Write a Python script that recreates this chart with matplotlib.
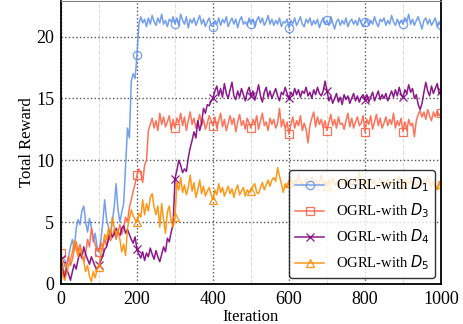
import matplotlib
matplotlib.use("Agg")
import matplotlib.pyplot as plt
import numpy as np

plt.rcParams['font.family'] = ['Liberation Serif', 'DejaVu Sans']
plt.rcParams['mathtext.fontset'] = 'dejavusans'

iters = list(range(0, 1001, 5))

# OGRL-with D1
d1 = [1.8, 1.2, 0.8, 1.5, 2.2, 3.0, 3.6, 2.8, 4.5, 5.2, 4.8, 5.9, 6.3, 5.0, 4.2, 5.3, 4.6, 3.4, 4.1, 3.0,
      2.6, 3.5, 5.0, 6.8, 5.2, 4.6, 3.9, 5.0, 6.2, 8.1, 6.0, 5.0, 5.8, 6.5, 9.5, 12.6, 11.8, 16.4, 17.0, 16.6,
      18.5, 21.0, 21.6, 21.1, 21.4, 20.8, 21.5, 21.0, 21.7, 21.2, 20.9, 21.5, 21.1, 21.8, 21.0, 21.3, 20.8, 21.4, 21.2, 21.6,
      21.0, 21.5, 20.9, 21.8, 21.3, 21.0, 21.6, 20.7, 21.4, 21.1, 21.5, 20.9, 21.3, 21.7, 21.0, 21.4, 20.8, 21.2, 21.5, 20.9,
      20.8, 21.3, 21.0, 21.5, 20.9, 21.4, 21.1, 21.6, 20.8, 21.2, 21.5, 21.0, 21.4, 20.7, 21.3, 21.6, 21.0, 21.2, 20.9, 21.5,
      21.0, 21.4, 20.8, 21.3, 21.6, 21.1, 21.5, 20.9, 21.2, 21.7, 21.0, 21.4, 20.9, 21.3, 21.0, 21.5, 20.8, 21.2, 21.1, 21.4,
      20.7, 21.3, 21.0, 21.5, 20.9, 21.2, 21.6, 21.0, 20.8, 21.4, 21.1, 21.5, 20.9, 21.3, 21.0, 21.4, 20.7, 21.2, 21.5, 21.0,
      21.3, 20.9, 21.6, 21.1, 20.6, 21.2, 21.4, 20.9, 21.3, 21.0, 21.5, 20.8, 21.2, 21.4, 21.0, 21.3, 20.9, 21.5, 21.1, 20.8,
      21.2, 21.4, 20.9, 21.3, 21.0, 21.6, 21.1, 20.8, 21.4, 21.2, 21.5, 20.9, 21.3, 21.0, 21.7, 21.2, 20.9, 21.4, 21.0, 21.3,
      21.0, 21.5, 21.2, 21.8, 21.0, 21.4, 20.9, 21.3, 21.6, 21.1, 20.6, 21.3, 21.5, 21.0, 21.4, 20.9, 21.2, 21.5, 20.8, 21.1,
      20.9]

# OGRL-with D3
d3 = [2.5, 1.0, 0.8, 1.6, 2.2, 1.5, 2.0, 2.8, 3.4, 2.6, 3.2, 2.4, 1.8, 2.5, 3.6, 3.0, 4.5, 3.8, 3.2, 2.7,
      2.6, 3.3, 2.9, 3.6, 3.1, 4.0, 3.5, 3.8, 4.4, 3.6, 4.2, 4.8, 4.0, 4.6, 5.4, 5.0, 6.2, 6.8, 7.5, 8.1,
      8.8, 9.3, 9.0, 8.2, 9.6, 10.0, 12.4, 12.9, 13.4, 12.6, 13.2, 12.4, 13.8, 12.9, 13.5, 12.7, 13.1, 13.6, 12.5, 13.3,
      12.6, 13.4, 13.0, 13.8, 12.8, 13.5, 12.4, 13.2, 13.9, 12.9, 13.4, 12.6, 13.1, 13.7, 12.8, 13.3, 12.5, 13.0, 13.6, 13.2,
      12.8, 13.5, 12.6, 13.2, 13.8, 12.7, 13.3, 12.4, 13.0, 13.6, 12.9, 13.4, 12.3, 13.1, 13.7, 12.8, 13.2, 12.5, 13.4, 13.0,
      12.6, 13.3, 12.9, 13.6, 12.5, 13.2, 13.8, 12.8, 13.1, 12.4, 13.4, 12.9, 13.3, 12.6, 13.0, 14.2, 12.7, 13.3, 12.5, 13.1,
      12.1, 12.9, 13.5, 12.6, 13.2, 12.8, 13.6, 12.4, 13.0, 12.5, 11.4, 12.8, 13.4, 13.9, 12.7, 13.5, 12.9, 13.3, 12.6, 13.2,
      12.4, 13.1, 13.7, 12.8, 13.3, 12.6, 13.5, 12.9, 13.0, 12.5, 13.2, 13.8, 12.7, 13.4, 12.6, 13.1, 13.5, 12.8, 13.0, 13.6,
      12.3, 13.3, 12.9, 13.6, 12.5, 13.1, 13.7, 12.8, 13.4, 12.6, 13.0, 13.5, 12.8, 13.3, 12.9, 13.8, 12.6, 13.2, 12.8, 13.4,
      12.3, 13.1, 12.4, 13.3, 12.8, 13.0, 11.9, 13.2, 13.7, 14.0, 13.5, 13.9, 13.3, 14.1, 13.6, 13.2, 13.9, 13.5, 14.0, 13.6,
      13.8]

# OGRL-with D4
d4 = [2.0, 1.0, 0.5, 1.2, 0.8, 0.3, 1.0, 1.6, 1.2, 2.0, 2.5, 2.1, 3.0, 2.4, 2.0, 1.6, 2.2, 1.8, 1.4, 1.2,
      1.5, 1.9, 2.3, 2.8, 3.0, 3.6, 4.2, 3.8, 4.0, 4.5, 4.2, 3.9, 4.5, 4.7, 4.1, 4.4, 4.0, 3.6, 3.3, 3.8,
      2.8, 2.4, 2.1, 2.6, 1.9, 2.5, 2.2, 2.9, 2.4, 2.0, 2.7, 2.2, 1.8, 2.4, 3.0, 2.6, 3.7, 3.4, 4.2, 4.8,
      8.5, 9.2, 10.0, 9.6, 9.0, 9.3, 9.1, 10.2, 11.0, 11.6, 12.3, 11.8, 13.2, 12.4, 13.0, 14.2, 13.8, 14.5, 14.4, 14.8,
      15.0, 15.6, 16.0, 15.2, 15.8, 15.1, 16.2, 15.4, 15.0, 15.7, 16.3, 15.2, 14.9, 15.6, 15.1, 15.8, 15.3, 14.8, 15.5, 15.9,
      15.2, 15.6, 14.9, 15.4, 16.1, 15.2, 14.7, 15.5, 15.9, 15.1, 15.6, 15.0, 15.4, 15.8, 15.2, 14.8, 15.5, 15.3, 15.9, 15.4,
      15.0, 15.5, 15.2, 15.8, 15.3, 15.7, 15.1, 15.6, 15.4, 15.9, 15.2, 15.5, 15.0, 15.7, 15.3, 15.9, 15.4, 15.2, 15.6, 16.4,
      15.6, 14.8, 15.2, 14.6, 15.0, 15.4, 14.7, 15.1, 14.5, 15.3, 14.9, 15.2, 14.6, 15.0, 15.4, 14.8, 15.2, 14.7, 15.1, 15.3,
      14.9, 15.3, 14.7, 15.1, 15.5, 14.8, 15.2, 15.6, 14.9, 15.3, 15.0, 15.4, 14.8, 15.2, 15.6, 15.1, 15.7, 15.2, 15.9, 15.3,
      15.1, 15.7, 15.4, 16.1, 15.5, 15.8, 15.0, 15.3, 14.5, 14.1, 14.6, 15.5, 16.3, 15.6, 15.2, 16.0, 15.4, 15.8, 16.2, 15.4,
      15.6]

# OGRL-with D5
d5 = [1.8, 0.6, 0.3, 0.9, 1.5, 2.0, 2.6, 3.5, 2.8, 2.2, 3.0, 2.4, 1.8, 1.0, 1.5, 0.6, 0.2, 1.0, 0.5, 1.2,
      1.4, 2.5, 3.1, 4.0, 3.6, 4.5, 3.8, 5.4, 4.6, 4.0, 4.4, 3.6, 2.6, 3.2, 2.3, 4.5, 5.3, 6.0, 5.5, 5.2,
      5.0, 5.7, 5.4, 6.8, 5.6, 6.5, 5.9, 7.0, 7.3, 6.2, 5.6, 6.3, 4.6, 6.5, 5.2, 4.1, 5.8, 6.3, 5.0, 4.6,
      5.4, 8.2, 7.6, 8.6, 7.4, 8.0, 7.2, 7.8, 8.8, 7.5, 8.2, 7.0, 7.6, 8.4, 7.3, 7.9, 7.1, 7.5, 7.8, 7.2,
      6.8, 7.6, 7.2, 8.1, 7.4, 7.8, 7.1, 7.5, 7.9, 7.3, 7.7, 7.0, 7.6, 8.0, 7.2, 7.5, 7.8, 7.1, 7.6, 7.4,
      7.5, 7.9, 8.1, 7.4, 7.3, 7.8, 8.2, 7.6, 8.0, 8.4, 7.9, 8.4, 8.6, 8.3, 9.4, 8.7, 8.1, 7.4, 8.1, 7.8,
      8.2, 8.6, 7.9, 8.4, 8.1, 8.9, 8.0, 8.3, 7.8, 8.5, 8.2, 8.0, 8.7, 8.1, 8.4, 7.9, 8.2, 8.8, 8.0, 8.3,
      7.9, 8.4, 8.1, 8.6, 8.0, 8.3, 7.8, 8.2, 8.5, 8.1, 8.7, 8.0, 8.3, 7.9, 8.2, 8.6, 8.1, 9.0, 8.2, 8.4,
      8.0, 8.3, 7.9, 8.5, 8.1, 8.4, 7.8, 8.2, 8.6, 8.0, 8.3, 8.1, 8.5, 7.9, 8.2, 8.4, 8.0, 8.3, 8.7, 8.1,
      8.2, 7.9, 8.4, 8.1, 8.6, 8.0, 8.3, 7.8, 8.2, 8.5, 8.0, 8.4, 8.1, 8.7, 8.2, 7.9, 8.3, 8.0, 7.6, 8.3,
      8.1]

labels = ['OGRL-with $D_1$', 'OGRL-with $D_3$', 'OGRL-with $D_4$', 'OGRL-with $D_5$']
series = [d1, d3, d4, d5]
colors = ['cornflowerblue', 'tomato', 'purple', 'darkorange']
markers = ['o', 's', 'x', '^']

marks = [i for i, v in enumerate(iters) if v % 100 == 0]

fig = plt.figure(figsize=(4.63, 3.24), dpi=100)
ax = fig.add_axes([0.1317, 0.1235, 0.8208, 0.8745])

for y, c, m, lab in zip(series, colors, markers, labels):
    ax.plot(iters, y, color=c, marker=m, markevery=marks, markersize=6,
            markerfacecolor='none', markeredgewidth=0.9, linewidth=1.1,
            alpha=0.9, label=lab)

ax.set_xlim([0, 1000])
ax.set_ylim([0, 22.9])
ax.set_xticks([0, 200, 400, 600, 800, 1000])
ax.set_xticks([100, 300, 500, 700, 900], minor=True)
ax.set_yticks([0, 5, 10, 15, 20])
ax.tick_params(axis='both', which='both', length=0, labelsize=13, pad=5)
ax.grid(True, which='major', linestyle=':', color='#555555', linewidth=1.0)
ax.grid(True, which='minor', axis='x', linestyle='--', color='#dddddd', linewidth=0.8)
ax.set_axisbelow(True)

for s in ['left', 'bottom', 'right']:
    ax.spines[s].set_linewidth(1.3)
    ax.spines[s].set_color('black')
ax.spines['top'].set_color('gray')

ax.set_xlabel('Iteration', fontsize=12, labelpad=1)
ax.set_ylabel('Total Reward', fontsize=12, labelpad=1)

leg = ax.legend(loc='lower right', fontsize=10.5, frameon=True, fancybox=True,
                edgecolor='black', framealpha=0.8, borderaxespad=0.4)
leg.get_frame().set_linewidth(1.0)

plt.savefig('out.png', dpi=100)
